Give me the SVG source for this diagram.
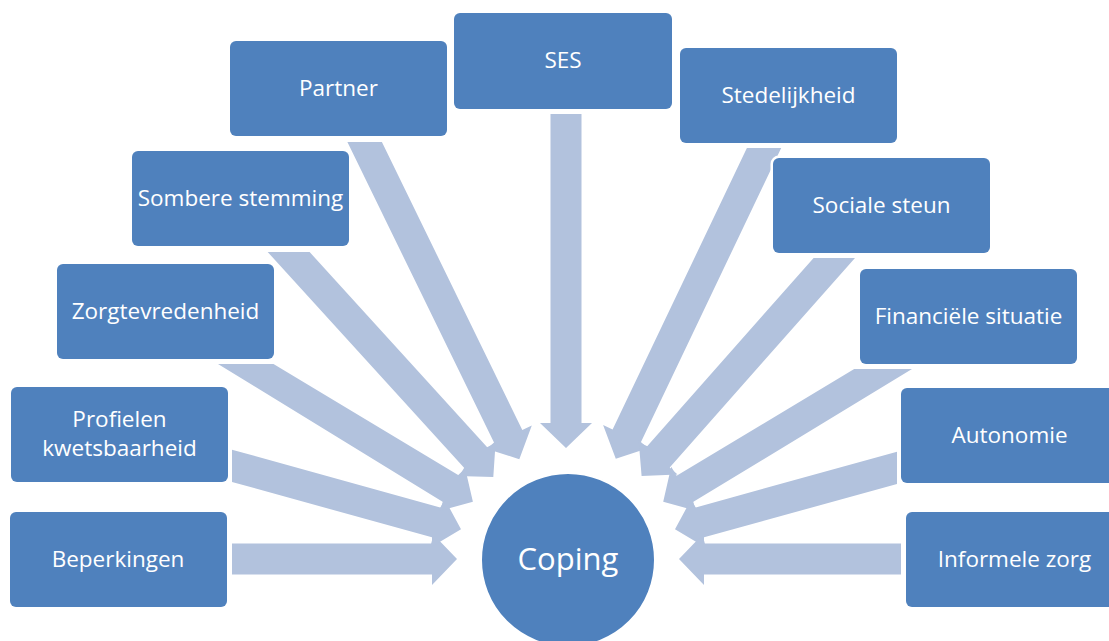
<svg xmlns="http://www.w3.org/2000/svg" width="1109" height="641" viewBox="0 0 1109 641">
<style>
.arrow{fill:#B2C2DD;stroke:none}
.box{fill:#4F81BD;stroke:#FFFFFF;stroke-width:5;paint-order:stroke}
.lbl{font-family:"Open Sans","Liberation Sans",sans-serif;font-size:22.5px;fill:#FFFFFF;text-anchor:middle}
.big{font-family:"Open Sans","Liberation Sans",sans-serif;font-size:31px;fill:#FFFFFF;text-anchor:middle}
</style>
<rect x="0" y="0" width="1109" height="641" fill="#FFFFFF"/>
<g id="connectors">
<polygon class="arrow" points="232,543.5 432,543.5 432,533 457,559 432,585 432,574.5 232,574.5"/>
<polygon class="arrow" points="232,449.7 441.1,507.7 443.9,497.6 461,529.3 430,547.7 432.8,537.6 232,481.9"/>
<polygon class="arrow" points="273.5,364 459.4,475.7 464.8,466.7 472.9,501.8 438,511.3 443.4,502.3 218,364"/>
<polygon class="arrow" points="309.6,252 487.9,448 495.7,440.9 493.3,476.9 457.2,475.9 465,468.8 267.7,252"/>
<polygon class="arrow" points="381.9,142 522.3,430 531.8,425.4 519.3,459.2 485,448.2 494.5,443.6 347.4,142"/>
<polygon class="arrow" points="550.5,114 550.5,423 540,423 566,448 592,423 581.5,423 581.5,114"/>
<polygon class="arrow" points="746.9,148 612.6,429.6 603.1,425.1 615.8,458.8 650,447.4 640.5,442.9 781.2,148"/>
<polygon class="arrow" points="813.6,258 646.5,446.9 638.6,439.9 641.6,475.9 677.6,474.4 669.7,467.4 855,258"/>
<polygon class="arrow" points="854.2,369 676.6,475.7 671.2,466.7 663.2,501.8 698,511.3 692.6,502.3 912,369"/>
<polygon class="arrow" points="897,451.7 694.9,507.7 692.1,497.6 675,529.3 706,547.7 703.2,537.6 897,483.9"/>
<polygon class="arrow" points="901,543.5 704,543.5 704,533 679,559 704,585 704,574.5 901,574.5"/>
</g>
<g id="node-beperkingen">
<rect class="box" x="10" y="512" width="217" height="95" rx="6"/>
<text class="lbl" x="118" y="567">Beperkingen</text>
</g>
<g id="node-profielen">
<rect class="box" x="11" y="387" width="217" height="95" rx="6"/>
<text class="lbl" x="119.5" y="427">Profielen</text>
<text class="lbl" x="119.5" y="456">kwetsbaarheid</text>
</g>
<g id="node-zorgtevredenheid">
<rect class="box" x="57" y="264" width="217" height="95" rx="6"/>
<text class="lbl" x="165.5" y="319">Zorgtevredenheid</text>
</g>
<g id="node-sombere">
<rect class="box" x="132" y="151" width="217" height="95" rx="6"/>
<text class="lbl" x="240.5" y="206">Sombere stemming</text>
</g>
<g id="node-partner">
<rect class="box" x="230" y="41" width="217" height="95" rx="6"/>
<text class="lbl" x="338.5" y="96">Partner</text>
</g>
<g id="node-ses">
<rect class="box" x="454" y="13" width="218" height="96" rx="6"/>
<text class="lbl" x="563" y="68">SES</text>
</g>
<g id="node-stedelijkheid">
<rect class="box" x="680" y="48" width="217" height="95" rx="6"/>
<text class="lbl" x="788.5" y="103">Stedelijkheid</text>
</g>
<g id="node-sociale">
<rect class="box" x="773" y="158" width="217" height="95" rx="6"/>
<text class="lbl" x="881.5" y="213">Sociale steun</text>
</g>
<g id="node-financiele">
<rect class="box" x="860" y="269" width="217" height="95" rx="6"/>
<text class="lbl" x="968.5" y="324">Financiële situatie</text>
</g>
<g id="node-autonomie">
<rect class="box" x="901" y="388" width="217" height="95" rx="6"/>
<text class="lbl" x="1009.5" y="443">Autonomie</text>
</g>
<g id="node-informele">
<rect class="box" x="906" y="512" width="217" height="95" rx="6"/>
<text class="lbl" x="1014.5" y="567">Informele zorg</text>
</g>
<g id="node-coping">
<circle cx="568" cy="560" r="87" fill="#4F81BD" stroke="#FFFFFF" stroke-width="2"/>
<text class="big" x="568" y="570">Coping</text>
</g>
</svg>
